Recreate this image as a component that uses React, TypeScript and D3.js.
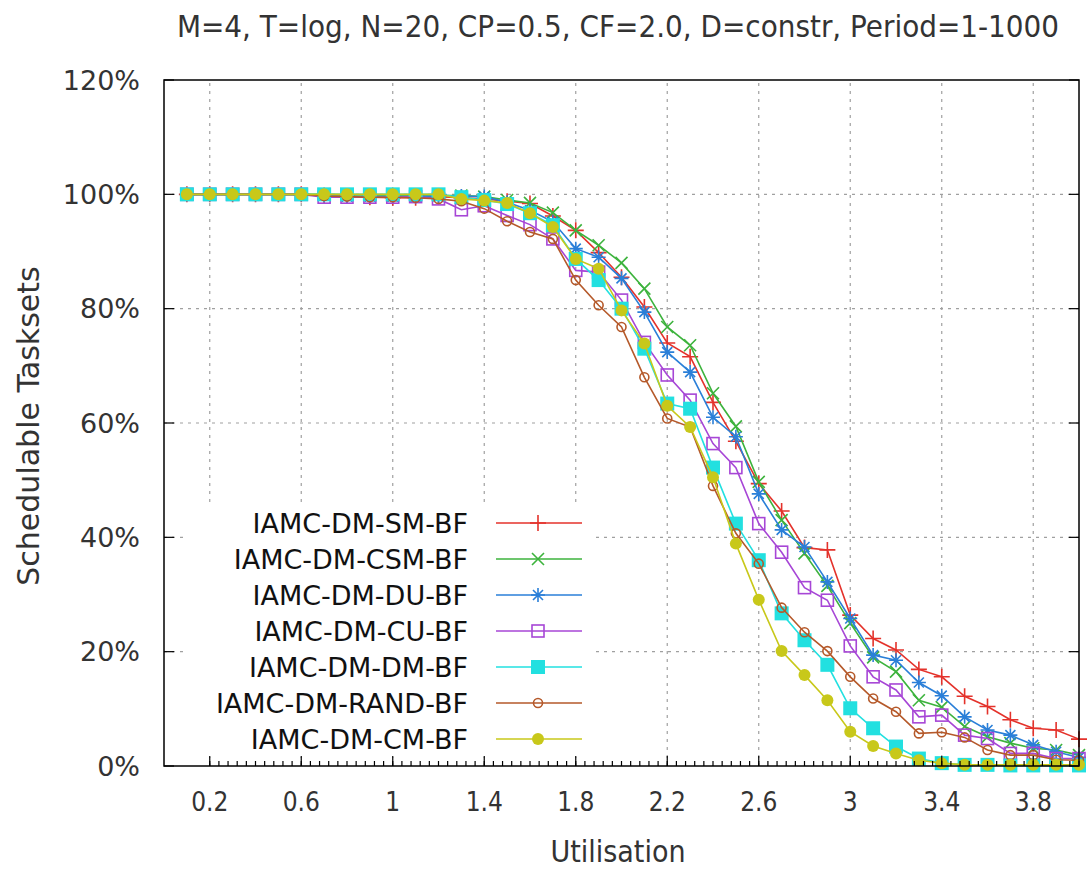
import React from "react";
import * as d3 from "d3";

const W = 1087;
const H = 871;
const margin = { top: 80, right: 8, bottom: 105, left: 164 };

const title = "M=4, T=log, N=20, CP=0.5, CF=2.0, D=constr, Period=1-1000";

// utilisation steps
const utils = [
  0.1, 0.2, 0.3, 0.4, 0.5, 0.6, 0.7, 0.8, 0.9, 1.0,
  1.1, 1.2, 1.3, 1.4, 1.5, 1.6, 1.7, 1.8, 1.9, 2.0,
  2.1, 2.2, 2.3, 2.4, 2.5, 2.6, 2.7, 2.8, 2.9, 3.0,
  3.1, 3.2, 3.3, 3.4, 3.5, 3.6, 3.7, 3.8, 3.9, 4.0,
];

const smBF = [
  100, 100, 100, 100, 100, 100, 99.8, 99.7, 99.5, 99.4,
  99.4, 99.6, 99.4, 99.2, 98.8, 98.4, 96.2, 93.7, 89.8, 85.5,
  80.3, 74.0, 71.6, 63.6, 56.8, 49.4, 44.6, 38.2, 37.8, 26.4,
  22.3, 20.3, 16.9, 15.6, 12.2, 10.4, 8.1, 6.6, 6.3, 4.7,
];
const csmBF = [
  100, 100, 100, 100, 100, 100, 100, 99.9, 99.9, 99.8,
  99.8, 99.8, 99.8, 99.6, 99.0, 98.5, 96.8, 93.7, 91.1, 88.0,
  83.5, 76.8, 73.6, 65.2, 59.4, 49.7, 43.0, 37.2, 31.5, 25.0,
  19.0, 16.5, 11.5, 10.3, 6.9, 5.1, 4.0, 3.1, 2.8, 1.9,
];
const duBF = [
  100, 100, 100, 100, 100, 100, 99.8, 99.6, 99.6, 99.6,
  99.6, 99.7, 99.7, 99.6, 98.6, 97.2, 95.2, 90.5, 89.0, 85.3,
  79.4, 72.4, 68.9, 61.0, 57.6, 47.6, 41.3, 38.3, 32.2, 25.8,
  19.4, 18.5, 14.6, 12.3, 8.6, 6.3, 5.4, 3.7, 2.5, 1.5,
];
const cuBF = [
  100, 100, 100, 100, 100, 100, 99.5, 99.5, 99.5, 99.5,
  99.6, 99.2, 97.3, 98.0, 96.3, 94.7, 92.2, 86.7, 86.4, 81.5,
  74.1, 68.4, 64.0, 56.4, 52.2, 42.4, 37.4, 31.2, 29.0, 21.0,
  15.6, 13.3, 8.6, 8.9, 5.4, 4.8, 2.2, 2.2, 1.3, 1.3,
];
const dmBF = [
  100, 100, 100, 100, 100, 100, 100, 100, 100, 100,
  100, 100, 99.5, 99.0, 98.3, 96.7, 94.6, 88.7, 85.0, 80.0,
  73.0, 63.4, 62.5, 52.2, 42.4, 36.0, 26.7, 22.0, 17.7, 10.1,
  6.6, 3.4, 1.3, 0.5, 0.2, 0.2, 0.1, 0.1, 0.1, 0.1,
];
const randBF = [
  100, 100, 100, 100, 100, 100, 99.7, 99.6, 99.5, 99.5,
  99.4, 99.2, 98.8, 97.5, 95.3, 93.4, 92.2, 85.0, 80.6, 76.8,
  68.0, 60.8, 59.3, 49.0, 40.7, 35.4, 27.7, 23.4, 20.1, 15.6,
  11.8, 9.5, 5.7, 5.9, 5.0, 2.8, 1.9, 1.9, 1.1, 1.0,
];
const cmBF = [
  100, 100, 100, 100, 100, 100, 100, 100, 100, 100,
  100, 100, 99.2, 98.9, 98.5, 96.7, 94.3, 88.7, 87.0, 79.7,
  73.9, 63.0, 59.3, 50.5, 38.9, 29.1, 20.1, 15.9, 11.5, 6.0,
  3.5, 2.2, 1.0, 0.5, 0.2, 0.2, 0.2, 0.2, 0.2, 0.2,
];

const seriesNames = [
  "IAMC-DM-SM-BF",
  "IAMC-DM-CSM-BF",
  "IAMC-DM-DU-BF",
  "IAMC-DM-CU-BF",
  "IAMC-DM-DM-BF",
  "IAMC-DM-RAND-BF",
  "IAMC-DM-CM-BF",
];
const seriesValues = [smBF, csmBF, duBF, cuBF, dmBF, randBF, cmBF];
const colors = ["#e4322b", "#3db33d", "#2a7fd8", "#a746d6", "#22e0e0", "#b5592a", "#c8c81a"];
const markers = ["plus", "cross", "star", "square", "fsquare", "circle", "fcircle"];

const xTicks = [0.2, 0.6, 1, 1.4, 1.8, 2.2, 2.6, 3, 3.4, 3.8];
const yTicks = [0, 20, 40, 60, 80, 100, 120];

const condensed = "'DejaVu Sans Condensed', 'DejaVu Sans', sans-serif";
const regular = "'DejaVu Sans', sans-serif";

function Marker({ kind, color }: { kind: string; color: string }) {
  const sw = 1.6;
  switch (kind) {
    case "plus":
      return <path d="M-8,0H8M0,-8V8" stroke={color} strokeWidth={sw} fill="none" />;
    case "cross":
      return <path d="M-6,-6L6,6M-6,6L6,-6" stroke={color} strokeWidth={sw} fill="none" />;
    case "star":
      return (
        <path
          d="M-7,0H7M0,-7V7M-5,-5L5,5M-5,5L5,-5"
          stroke={color}
          strokeWidth={sw}
          fill="none"
        />
      );
    case "square":
      return <rect x={-6} y={-6} width={12} height={12} stroke={color} strokeWidth={sw} fill="none" />;
    case "fsquare":
      return <rect x={-7} y={-7} width={14} height={14} fill={color} />;
    case "circle":
      return <circle r={4.5} stroke={color} strokeWidth={sw} fill="none" />;
    default:
      return <circle r={6} fill={color} />;
  }
}

export default function App() {
  const x = d3.scaleLinear().domain([0, 4]).range([margin.left, W - margin.right]);
  const y = d3.scaleLinear().domain([0, 120]).range([H - margin.bottom, margin.top]);
  const [x0, x1] = x.range();
  const [y0, y1] = y.range();

  const line = d3
    .line<number>()
    .x((_, i) => x(utils[i]))
    .y((d) => y(d));

  const minorTicks = d3.range(0.2, 4.0001, 0.04);
  const fmt = d3.format("~g");

  const keyRight = 468;
  const keyTop = 523;
  const keyStep = 36;

  return (
    <svg
      width={W}
      height={H}
      style={{ position: "absolute", left: 0, top: 0, background: "#fff" }}
    >
      <rect width={W} height={H} fill="#fff" />

      {/* grid */}
      <g stroke="#a0a0a0" strokeWidth={1.2} strokeDasharray="3,5">
        {xTicks.map((t) => (
          <line key={"gx" + t} x1={x(t)} x2={x(t)} y1={y0} y2={y1} />
        ))}
        {yTicks.slice(1, -1).map((t) => (
          <line key={"gy" + t} x1={x0} x2={x1} y1={y(t)} y2={y(t)} />
        ))}
      </g>

      {/* series */}
      {seriesValues.map((vals, si) => (
        <g key={seriesNames[si]}>
          <path d={line(vals) || ""} fill="none" stroke={colors[si]} strokeWidth={1.6} />
          {vals.map((v, i) => (
            <g key={i} transform={`translate(${x(utils[i])},${y(v)})`}>
              <Marker kind={markers[si]} color={colors[si]} />
            </g>
          ))}
        </g>
      ))}

      {/* opaque key */}
      <rect x={186} y={505} width={406} height={252} fill="#fff" />
      {seriesNames.map((name, i) => {
        const ky = keyTop + i * keyStep;
        return (
          <g key={"k" + name}>
            <text
              x={keyRight}
              y={ky}
              textAnchor="end"
              dominantBaseline="central"
              fontFamily={regular}
              fontSize={27}
              fill="#111"
            >
              {name}
            </text>
            <line x1={496} x2={582} y1={ky} y2={ky} stroke={colors[i]} strokeWidth={1.6} />
            <g transform={`translate(538,${ky})`}>
              <Marker kind={markers[i]} color={colors[i]} />
            </g>
          </g>
        );
      })}

      {/* frame and ticks */}
      <rect x={x0} y={y1} width={x1 - x0} height={y0 - y1} fill="none" stroke="#000" strokeWidth={1.5} />
      <g stroke="#000" strokeWidth={1.2}>
        {minorTicks.map((t, i) => (
          <line key={"mx" + i} x1={x(t)} x2={x(t)} y1={y0} y2={y0 - 5} />
        ))}
        {xTicks.map((t) => (
          <line key={"tx" + t} x1={x(t)} x2={x(t)} y1={y0} y2={y0 - 10} />
        ))}
        {yTicks.map((t) => (
          <g key={"ty" + t}>
            <line x1={x0} x2={x0 + 10} y1={y(t)} y2={y(t)} />
            <line x1={x1} x2={x1 - 10} y1={y(t)} y2={y(t)} />
          </g>
        ))}
      </g>

      {/* tick labels */}
      {yTicks.map((t) => (
        <text
          key={"ly" + t}
          x={140}
          y={y(t)}
          textAnchor="end"
          dominantBaseline="central"
          fontFamily={regular}
          fontSize={27}
          fill="#333"
        >
          {t + "%"}
        </text>
      ))}
      {xTicks.map((t) => (
        <text
          key={"lx" + t}
          x={x(t)}
          y={802}
          textAnchor="middle"
          dominantBaseline="central"
          fontFamily={condensed}
          fontSize={26}
          fill="#333"
        >
          {fmt(t)}
        </text>
      ))}

      {/* titles */}
      <text
        x={618}
        y={26}
        textAnchor="middle"
        dominantBaseline="central"
        fontFamily={condensed}
        fontSize={31}
        fill="#333"
      >
        {title}
      </text>
      <text
        x={618}
        y={851}
        textAnchor="middle"
        dominantBaseline="central"
        fontFamily={condensed}
        fontSize={30}
        fill="#333"
      >
        Utilisation
      </text>
      <text
        transform="translate(28,426) rotate(-90)"
        textAnchor="middle"
        dominantBaseline="central"
        fontFamily={regular}
        fontSize={30}
        fill="#333"
      >
        Schedulable Tasksets
      </text>
    </svg>
  );
}
